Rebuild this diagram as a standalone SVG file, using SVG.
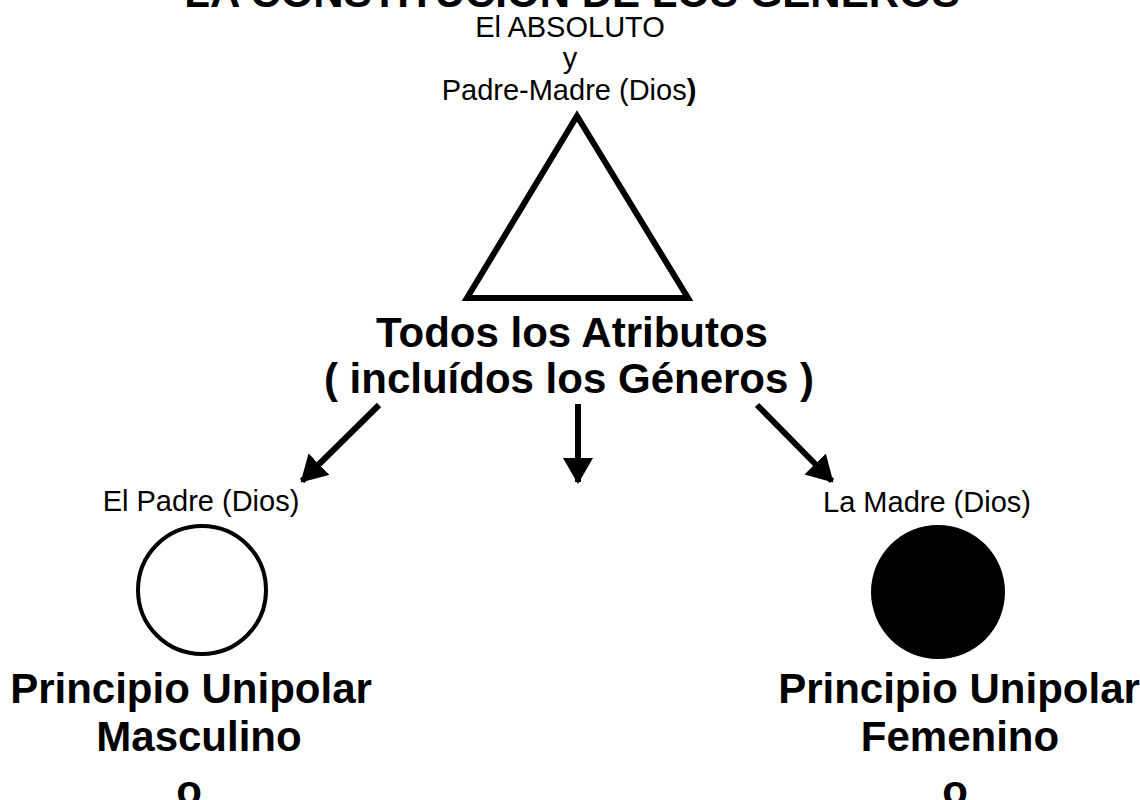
<svg xmlns="http://www.w3.org/2000/svg" width="1140" height="800" viewBox="0 0 1140 800">
<style>
  text { font-family: "Liberation Sans", Arial, sans-serif; fill: #000; text-anchor: middle; }
  .b { font-weight: bold; font-size: 42px; }
  .r { font-weight: normal; font-size: 29px; }
  .conn { stroke: #000; stroke-width: 6; fill: none; }
</style>
<defs>
  <marker id="ah" markerUnits="userSpaceOnUse" markerWidth="34" markerHeight="34" refX="24" refY="15" orient="auto">
    <path d="M0,0 L26,15 L0,30 Z" fill="#000"/>
  </marker>
</defs>
<rect width="1140" height="800" fill="#fff"/>
<g id="title">
  <text class="b" x="572" y="7">LA CONSTITUCIÓN DE LOS GÉNEROS</text>
</g>
<g id="absoluto">
  <text class="r" x="570" y="37">El ABSOLUTO</text>
  <text class="r" x="570" y="68">y</text>
  <text class="r" x="569" y="100">Padre-Madre (Dios<tspan font-weight="bold">)</tspan></text>
  <polygon points="577,116 467,298 688,298" fill="none" stroke="#000" stroke-width="6" stroke-linejoin="miter"/>
</g>
<g id="atributos">
  <text class="b" x="572" y="347">Todos los Atributos</text>
  <text class="b" x="569" y="393">( incluídos los Géneros )</text>
</g>
<g id="connectors">
  <line class="conn" x1="379" y1="405" x2="302" y2="481" marker-end="url(#ah)"/>
  <line class="conn" x1="578" y1="404" x2="578" y2="482" marker-end="url(#ah)"/>
  <line class="conn" x1="757" y1="405" x2="832" y2="481" marker-end="url(#ah)"/>
</g>
<g id="padre">
  <text class="r" x="201" y="511">El Padre (Dios)</text>
  <circle cx="202" cy="590" r="64" fill="#fff" stroke="#000" stroke-width="4"/>
  <text class="b" x="191" y="703">Principio Unipolar</text>
  <text class="b" x="199" y="751">Masculino</text>
  <text class="b" x="189" y="805">o</text>
</g>
<g id="madre">
  <text class="r" x="927" y="512">La Madre (Dios)</text>
  <circle cx="938" cy="592" r="67" fill="#000"/>
  <text class="b" x="959" y="703">Principio Unipolar</text>
  <text class="b" x="960" y="751">Femenino</text>
  <text class="b" x="955" y="805">o</text>
</g>
</svg>
